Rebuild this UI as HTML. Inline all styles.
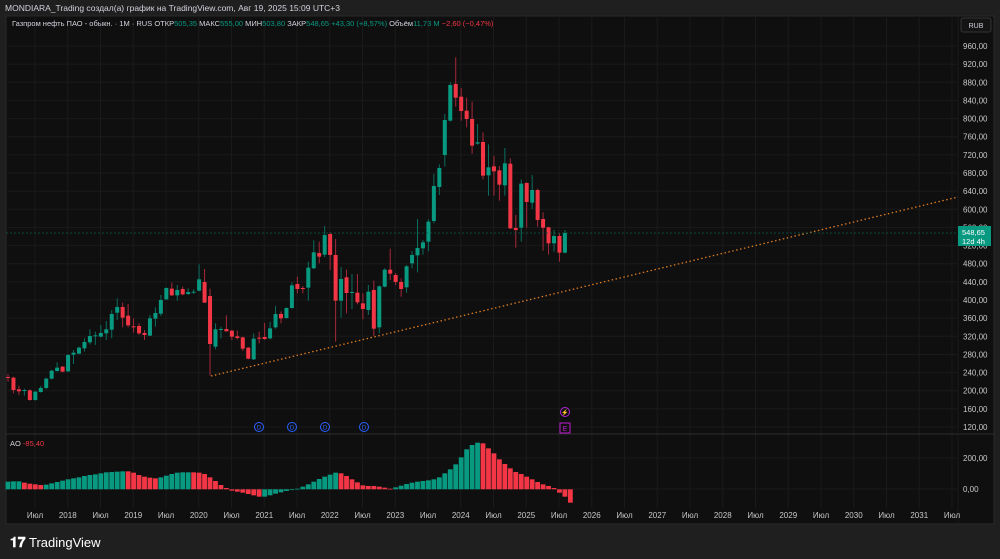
<!DOCTYPE html>
<html><head><meta charset="utf-8"><style>
html,body{margin:0;padding:0;background:#1f1f1f;width:1000px;height:559px;overflow:hidden;font-family:"Liberation Sans",sans-serif}
svg{position:absolute;left:0;top:0}
</style></head><body>
<svg id="s" width="1000" height="559" viewBox="0 0 1000 559" xmlns="http://www.w3.org/2000/svg" font-family="Liberation Sans, sans-serif">
<rect x="0" y="0" width="1000" height="559" fill="#1f1f1f"/>
<text x="5" y="11" fill="#d1d4dc" font-size="8.5">MONDIARA_Trading создал(а) график на TradingView.com, Авг 19, 2025 15:09 UTC+3</text>
<rect x="6" y="16" width="988" height="508" fill="#0f0f0f" stroke="#2a2a2a"/>
<g id="grid" stroke="#1a1a1a" stroke-width="1"></g>
<line x1="6" y1="434" x2="994" y2="434" stroke="#2e2e2e"/>
<line x1="958" y1="16" x2="958" y2="524" stroke="#1a1a1a"/>
<g id="c"></g>
<line x1="211" y1="376" x2="958" y2="197" stroke="#e07b20" stroke-width="1.3" stroke-dasharray="1.5 2.5"/>
<line x1="6" y1="233" x2="958" y2="233" stroke="#0b5c4d" stroke-width="0.8" stroke-dasharray="2 2"/>
<g id="a"></g>
<g id="lbl" fill="#c8c8c8" font-size="8"></g>
<text x="12" y="26" font-size="7.5" fill="#d1d4dc">Газпром нефть ПАО - обыкн. · 1М · RUS  ОТКР<tspan fill="#089981">505,35</tspan>  МАКС<tspan fill="#089981">555,00</tspan>  МИН<tspan fill="#089981">503,80</tspan>  ЗАКР<tspan fill="#089981">548,65</tspan>  <tspan fill="#089981">+43,30 (+8,57%)</tspan>  Объём<tspan fill="#089981">11,73 М</tspan>  <tspan fill="#f23645">−2,60 (−0,47%)</tspan></text>
<rect x="961" y="18" width="30" height="14" rx="2" fill="#141414" stroke="#333"/>
<text x="976" y="28" font-size="7" fill="#d1d4dc" text-anchor="middle">RUB</text>
<rect x="958" y="226" width="33" height="20" fill="#089981"/>
<text x="962" y="235" font-size="7.5" fill="#fff">548,65</text>
<text x="962" y="244" font-size="7.5" fill="#fff">12d 4h</text>
<text x="10" y="446" font-size="7.5" fill="#d1d4dc">AO <tspan fill="#f23645">-85,40</tspan></text>
<g fill="none" stroke="#2962ff" stroke-width="1">
<circle cx="259" cy="427" r="4.5"/><circle cx="292" cy="427" r="4.5"/><circle cx="325" cy="427" r="4.5"/><circle cx="364" cy="427" r="4.5"/></g>
<g fill="#2962ff" font-size="6" text-anchor="middle"><text x="259" y="429.5">D</text><text x="292" y="429.5">D</text><text x="325" y="429.5">D</text><text x="364" y="429.5">D</text></g>
<circle cx="565" cy="412" r="4.5" fill="none" stroke="#b026d9"/><text x="565" y="414.5" font-size="6" fill="#b026d9" text-anchor="middle">⚡</text>
<rect x="560" y="423" width="10" height="10" fill="none" stroke="#c21bd6"/><text x="565" y="431" font-size="7" fill="#c21bd6" text-anchor="middle">E</text>
<text x="10" y="547" font-size="14" font-weight="bold" fill="#fff">𝟏𝟕</text>
<text x="29" y="547" font-size="13" fill="#fff">TradingView</text>
</svg>
<script>
var NS="http://www.w3.org/2000/svg";
function el(p,t,a,txt){var e=document.createElementNS(NS,t);for(var k in a)e.setAttribute(k,a[k]);if(txt!==undefined)e.textContent=txt;document.getElementById(p).appendChild(e);return e;}
for(var p=120;p<=960;p+=40){var y=46+(960-p)*0.4536;el("grid","line",{x1:6,y1:y,x2:958,y2:y});el("lbl","text",{x:963,y:y+3},p+",00");}
el("grid","line",{x1:6,y1:458,x2:958,y2:458});el("grid","line",{x1:6,y1:489,x2:958,y2:489});
el("lbl","text",{x:963,y:461},"200,00");el("lbl","text",{x:963,y:492},"0,00");
var tl=["Июл","2018","Июл","2019","Июл","2020","Июл","2021","Июл","2022","Июл","2023","Июл","2024","Июл","2025","Июл","2026","Июл","2027","Июл","2028","Июл","2029","Июл","2030","Июл","2031","Июл"];
for(var i=0;i<tl.length;i++){var x=35+i*32.75;el("grid","line",{x1:x,y1:16,x2:x,y2:508});el("lbl","text",{x:x,y:518,"text-anchor":"middle"},tl[i]);}
var A=[[442,441,432,455,0],[443,480,440,490,0],[478,484,467,495,0],[482,480,476,497,1],[481,510,478,512,0],[510,485,483,512,1],[486,474,468,488,1],[474,446,443,478,1],[446,422,420,448,1],[423,413,397,425,1],[410,425,408,427,0],[424,375,372,426,1],[374,368,360,402,1],[371,353,350,373,1],[355,336,325,365,1],[337,318,298,343,1],[317,316,305,345,1],[320,309,285,322,1],[310,298,273,330,1],[299,252,240,325,1],[248,231,205,270,1],[231,263,218,292,0],[257,286,222,292,0],[289,290,265,308,0],[288,310,280,315,0],[309,315,300,330,0],[317,265,255,318,1],[266,249,232,290,1],[251,210,195,258,1],[208,174,172,210,1],[176,196,158,198,0],[196,180,165,212,1],[177,193,170,196,0],[192,186,175,195,1],[186,185,178,192,1],[182,148,103,184,1],[156,218,117,218,0],[198,342,176,437,0],[350,298,280,358,1],[298,297,290,325,1],[297,304,256,305,0],[302,320,300,330,0],[319,324,302,328,0],[322,356,320,363,0],[353,386,351,388,0],[388,326,310,390,1],[323,325,305,340,0],[321,327,279,330,0],[325,295,276,328,1],[292,252,228,296,1],[252,265,244,280,0],[264,234,232,266,1],[234,166,157,236,1],[162,177,140,190,0],[174,177,168,190,0]];
var B=[[713,653,635,752,1],[655,607,571,657,1],[609,620,575,640,0],[614,555,528,622,1],[552,615,547,660,0],[615,752,567,875,0],[752,687,651,803,1],[682,729,659,790,0],[729,726,672,777,1],[728,757,672,763,0],[760,777,730,808,0],[780,725,705,795,1],[720,836,692,858,0],[832,709,706,850,1],[710,659,655,712,1],[659,671,596,690,0],[675,696,669,705,0],[696,717,685,740,0],[712,649,645,728,1],[640,615,603,655,1],[616,594,507,667,1],[595,577,570,614,1],[575,515,508,604,1],[513,408,372,520,1],[411,354,343,435,1],[315,210,192,350,1],[212,105,97,214,1],[102,143,22,170,0],[140,183,114,212,0],[182,207,143,232,0],[207,287,155,311,0],[281,277,222,284,1],[276,377,247,388,0],[376,352,283,437,1],[349,364,318,437,0],[361,404,348,452,0],[406,340,294,437,1],[341,535,325,537,0],[534,540,495,593,0],[533,401,388,575,1],[399,456,397,533,0],[458,420,375,477,1],[420,510,416,530,0],[507,533,487,602,0],[532,580,530,614,0],[580,558,540,605,1],[558,608,550,635,0],[608,549,540,610,1]];
var C=[];A.forEach(function(d){C.push([230+d[0]/3,230+d[1]/3,230+d[2]/3,230+d[3]/3,d[4]]);});
B.forEach(function(d){C.push([50+d[0]/3,50+d[1]/3,50+d[2]/3,50+d[3]/3,d[4]]);});
for(var i=0;i<C.length;i++){var d=C[i],x=8+i*5.46,col=d[4]?"#089981":"#f23645";
el("c","line",{x1:x,y1:d[2],x2:x,y2:d[3],stroke:d[4]?"#0a6e5e":"#a8283a","stroke-width":1});
var t=Math.min(d[0],d[1]),h=Math.max(1,Math.abs(d[0]-d[1]));el("c","rect",{x:x-2,y:t,width:4,height:h,fill:col});}
var ao="t185,t184,t184,r188,r191,r193,r195,t194,t190,t186,t182,t178,t175,t172,t168,t165,t163,t160,t157,t156,t155,t154,r154,r158,r165,r170,r173,r175,t172,t167,t162,t158,t157,t157,r157,r158,r162,r172,r183,r195,r204,r212,r215,r218,r222,r226,r230,t230,t226,t221,t217,t213,t210,t206,t200,t193,t185,t177,t170,t164,t158,r160,r168,r178,r187,r196,r198,r198,r200,r203,r206,t202,t197,t192,t188,t185,t183,t181,t178,t172,t160,t148,t133,t112,t88,t75,t68,r70,r85,r100,r118,r132,r145,r156,r162,r170,r178,r186,r193,r198,r204,r218,r230,r248".split(",");
for(var i=0;i<ao.length;i++){var x=8+i*5.46,v=420+parseInt(ao[i].slice(1))/3,z=489.3;
el("a","rect",{x:x-2.4,y:Math.min(v,z),width:4.8,height:Math.max(0.8,Math.abs(v-z)),fill:ao[i][0]=="t"?"#089981":"#f23645"});}
</script>
</body></html>
